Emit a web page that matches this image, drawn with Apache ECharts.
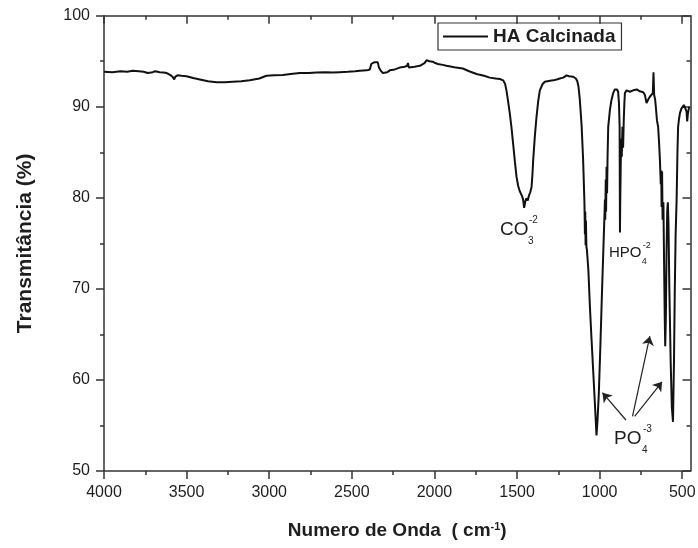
<!DOCTYPE html>
<html>
<head>
<meta charset="utf-8">
<script src="https://cdn.jsdelivr.net/npm/echarts@6/dist/echarts.min.js"></script>
<style>
html, body { margin: 0; padding: 0; background: #fff; }
#chart_01 { width: 698px; height: 548px; }
</style>
</head>
<body>
<div id="chart_01"></div>
<script>
// spectrum (cm-1, %)
var wavenumber = [
    4000, 3950, 3900, 3860, 3826, 3790, 3760, 3735, 3723, 3705, 3690, 3663, 3640, 3620, 3600, 3585, 3575, 3568, 3555, 3530,
    3501, 3460, 3420, 3370, 3320, 3270, 3220, 3170, 3118, 3060, 3017, 2970, 2918, 2870, 2815, 2760, 2714, 2660, 2615, 2573,
    2524, 2480, 2452, 2410, 2391, 2382, 2376, 2370, 2362, 2352, 2343, 2336, 2326, 2312, 2300, 2285, 2270, 2240, 2210, 2180,
    2165, 2160, 2155, 2145, 2120, 2088, 2060, 2048, 2040, 2030, 2020, 2010, 1995, 1979, 1950, 1927, 1880, 1828, 1790, 1745,
    1700, 1665, 1630, 1604, 1584, 1572, 1564, 1554, 1544, 1534, 1524, 1513, 1503, 1493, 1483, 1470, 1463, 1457, 1450, 1443,
    1435, 1427, 1420, 1412, 1407, 1402, 1392, 1382, 1372, 1362, 1345, 1332, 1300, 1281, 1260, 1241, 1220, 1200, 1185, 1160,
    1144, 1135, 1128, 1120, 1109, 1100, 1092, 1089, 1087, 1085, 1083, 1080, 1077, 1068, 1059, 1050, 1041, 1029, 1019, 1013,
    1005, 995, 986, 978, 970, 968, 966, 963, 961, 958, 955, 952, 948, 938, 930, 918, 908, 902, 895, 888,
    883, 879, 877, 875, 872, 869, 866, 862, 858, 854, 850, 847, 837, 827, 817, 805, 790, 775, 767, 757,
    746, 736, 726, 716, 706, 696, 686, 678, 674, 670, 664, 660, 653, 646, 640, 635, 630, 627, 625, 622,
    619, 614, 610, 606, 603, 599, 595, 591, 587, 583, 578, 570, 563, 556, 550, 545, 540, 534, 529, 525,
    520, 514, 505, 498, 490, 484, 478, 474, 470, 466, 462, 458, 454
];
var transmittance = [
    93.85, 93.8, 93.9, 93.85, 93.95, 93.9, 93.85, 93.7, 93.55, 93.8, 93.9, 93.8, 93.75, 93.7, 93.5, 93.3, 93.0, 93.3, 93.45, 93.4,
    93.35, 93.15, 93.0, 92.8, 92.7, 92.7, 92.75, 92.8, 92.9, 93.1, 93.4, 93.45, 93.5, 93.6, 93.7, 93.7, 93.75, 93.8, 93.75, 93.8,
    93.85, 93.9, 93.95, 94.0, 94.1, 94.7, 94.9, 94.5, 94.9, 94.8, 94.9, 94.3, 94.0, 93.7, 93.6, 93.8, 94.0, 94.1, 94.3, 94.4,
    94.5, 94.8, 94.3, 94.4, 94.4, 94.5, 94.8, 95.1, 95.2, 95.0, 94.85, 94.95, 94.8, 94.7, 94.6, 94.5, 94.35, 94.2, 93.9, 93.6,
    93.4, 93.2, 93.1, 93.05, 92.9, 92.5, 91.8, 90.6, 89.3, 87.8, 86.0, 84.0, 82.3, 81.3, 80.7, 80.2, 79.8, 78.9, 79.6, 79.95,
    79.7, 80.3, 80.6, 81.2, 82.5, 84.2, 86.8, 88.9, 90.6, 91.8, 92.5, 92.75, 92.85, 92.9, 93.0, 93.1, 93.2, 93.45, 93.35, 93.3,
    93.1, 92.8, 92.2, 90.8, 87.9, 84.2, 79.5, 76.0, 78.5, 74.8, 77.5, 74.6, 74.3, 72.0, 68.1, 64.8, 61.7, 57.5, 53.9, 55.5,
    58.5, 64.0, 69.5, 74.0, 78.5, 79.8, 77.6, 82.0, 78.5, 83.4, 80.5, 84.5, 87.8, 89.6, 90.6, 91.5, 91.9, 92.0, 91.9, 91.65,
    90.4, 87.8, 76.2, 80.0, 84.0, 86.5, 84.5, 87.8, 85.5, 88.5, 90.5, 91.5, 91.8, 91.65, 91.65, 91.8, 91.85, 91.9, 92.0, 91.7,
    91.5, 91.6, 91.3, 90.4, 90.8, 91.1, 91.3, 91.5, 93.8, 91.3, 90.8, 90.0, 88.5, 87.8, 86.0, 84.1, 81.5, 83.0, 79.0, 82.9,
    77.6, 79.5, 73.0, 67.0, 63.7, 67.0, 74.0, 78.5, 79.5, 77.0, 70.0, 62.0, 57.0, 55.4, 62.0, 70.0, 76.0, 79.8, 85.0, 87.8,
    88.6, 89.3, 89.8, 90.0, 90.2, 90.2, 90.0, 89.5, 88.4, 89.2, 89.6, 90.0, 90.0
];

var xMajorTicks = [4000, 3500, 3000, 2500, 2000, 1500, 1000, 500];
var xMinorTicks = [3750, 3250, 2750, 2250, 1750, 1250, 750];
var seriesName = 'HA Calcinada';

// PO4 arrows: [from, to] in (cm-1, %)
var phosphateArrows = [
    [[841, 55.6], [983, 58.6]],
    [[801, 56.0], [696, 64.8]],
    [[788, 56.0], [622, 59.8]]
];

var chart1;
var FONT = '"Liberation Sans", Arial, sans-serif';
var AXIS_COLOR = '#333';
var TEXT_COLOR = '#1e1e1e';

function chemLabel(x, y, base, sub, sup, size, small) {
    var font = size + 'px ' + FONT;
    var sfont = small + 'px ' + FONT;
    var w = base.length === 2 ? size * 1.42 : size * 2.12;
    return [
        { type: 'text', style: { x: x, y: y, text: base, font: font, fill: TEXT_COLOR, textVerticalAlign: 'middle', verticalAlign: 'middle' } },
        { type: 'text', style: { x: x + w + 2, y: y - size * 0.5, text: sup, font: sfont, fill: TEXT_COLOR, textVerticalAlign: 'middle', verticalAlign: 'middle' } },
        { type: 'text', style: { x: x + w + 1, y: y + size * 0.6, text: sub, font: sfont, fill: TEXT_COLOR, textVerticalAlign: 'middle', verticalAlign: 'middle' } }
    ];
}

function plainNumber(v) {
    return String(v);
}

function xAxisDef(position, ticks, tickLen, inside, showLine, showLabel) {
    return {
        type: 'value',
        position: position,
        min: 450,
        max: 4000,
        inverse: true,
        axisLine: { show: showLine, onZero: false, lineStyle: { color: AXIS_COLOR, width: 1.5 } },
        axisTick: { show: true, inside: inside, length: tickLen, customValues: ticks, lineStyle: { color: AXIS_COLOR, width: 1.5 } },
        axisLabel: { show: showLabel, customValues: ticks, formatter: plainNumber, fontSize: 16, color: TEXT_COLOR, fontFamily: FONT, margin: 14 },
        splitLine: { show: false }
    };
}

function yAxisDef(position, inside, showLabel) {
    return {
        type: 'value',
        position: position,
        min: 50,
        max: 100,
        interval: 10,
        axisLine: { show: true, onZero: false, lineStyle: { color: AXIS_COLOR, width: 1.5 } },
        axisTick: { show: true, inside: inside, length: 8, lineStyle: { color: AXIS_COLOR, width: 1.5 } },
        minorTick: { show: true, splitNumber: 2, length: 4, lineStyle: { color: AXIS_COLOR, width: 1.5 } },
        axisLabel: { show: showLabel, formatter: plainNumber, fontSize: 16, color: TEXT_COLOR, fontFamily: FONT, margin: 14 },
        splitLine: { show: false }
    };
}

function setChart1() {
    var dom = document.getElementById('chart_01');
    chart1 = echarts.init(dom, null, { renderer: 'canvas' });

    var points = [];
    for (var i = 0; i < wavenumber.length; i++) {
        points.push([wavenumber[i], transmittance[i]]);
    }

    var arrowData = phosphateArrows.map(function (a) {
        return [{ coord: a[0] }, { coord: a[1] }];
    });

    var xBottom = xAxisDef('bottom', xMajorTicks, 8, false, true, true);
    xBottom.name = '{a|Numero de Onda  ( cm}{s|-1}{a|)}';
    xBottom.nameLocation = 'middle';
    xBottom.nameGap = 50;
    xBottom.nameTextStyle = {
        fontFamily: FONT,
        rich: {
            a: { fontSize: 19, fontWeight: 'bold', color: TEXT_COLOR, fontFamily: FONT },
            s: { fontSize: 11, fontWeight: 'bold', color: TEXT_COLOR, fontFamily: FONT, verticalAlign: 'top' }
        }
    };

    var yLeft = yAxisDef('left', false, true);
    yLeft.name = 'Transmitância (%)';
    yLeft.nameLocation = 'middle';
    yLeft.nameGap = 68;
    yLeft.nameTextStyle = { fontSize: 21, fontWeight: 'bold', color: TEXT_COLOR, fontFamily: FONT };

    var graphics = []
        .concat(chemLabel(500, 229.5, 'CO', '3', '-2', 19, 10))
        .concat(chemLabel(609, 253, 'HPO', '4', '-2', 15, 9))
        .concat(chemLabel(614, 438.5, 'PO', '4', '-3', 19, 10));

    var option = {
        animation: false,
        backgroundColor: '#fff',
        grid: { left: 104, right: 7.5, top: 15.7, bottom: 77, outerBoundsMode: 'none' },
        legend: {
            data: [seriesName],
            left: 438,
            top: 23,
            icon: 'rect',
            itemWidth: 45,
            itemHeight: 2,
            padding: [4, 6, 4, 5],
            borderColor: AXIS_COLOR,
            borderWidth: 1.2,
            textStyle: { fontSize: 19, fontWeight: 'bold', color: TEXT_COLOR, fontFamily: FONT }
        },
        xAxis: [
            xBottom,
            xAxisDef('bottom', xMinorTicks, 4, false, false, false),
            xAxisDef('top', xMajorTicks, 8, true, true, false),
            xAxisDef('top', xMinorTicks, 4, true, false, false)
        ],
        yAxis: [
            yLeft,
            yAxisDef('right', true, false)
        ],
        graphic: graphics,
        series: [{
            name: seriesName,
            type: 'line',
            xAxisIndex: 0,
            yAxisIndex: 0,
            data: points,
            showSymbol: false,
            symbol: 'none',
            lineStyle: { color: '#111', width: 2 },
            itemStyle: { color: '#111' },
            markLine: {
                silent: true,
                symbol: ['none', 'arrow'],
                symbolSize: 9,
                label: { show: false },
                lineStyle: { color: '#222', width: 1.2, type: 'solid' },
                data: arrowData
            }
        }]
    };
    chart1.setOption(option, true);
}

window.onresize = function () {
    chart1 && chart1.resize();
};
setChart1();
</script>
</body>
</html>
